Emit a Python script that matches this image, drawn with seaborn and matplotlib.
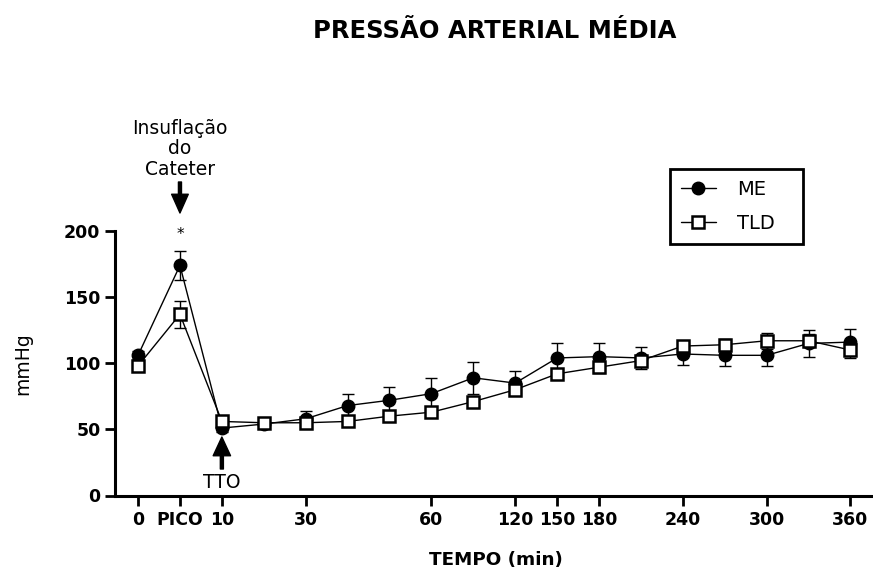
import numpy as np
import pandas as pd
import matplotlib
matplotlib.use("Agg")
import matplotlib.pyplot as plt
import seaborn as sns

# Time points (equally spaced categories) and labelled ticks
tempos = ['0', 'PICO', '10', '20', '30', '40', '50', '60', '90', '120',
          '150', '180', '210', '240', '270', '300', '330', '360']
tick_labels = ['0', 'PICO', '10', '30', '60', '120', '150', '180', '240', '300', '360']

# Mean arterial pressure (mmHg): mean and SEM per group
me_media = [106, 174, 51, 54, 58, 68, 72, 77, 89, 85, 104, 105, 104, 107, 106, 106, 115, 116]
me_epm = [3, 11, 3, 3, 6, 9, 10, 12, 12, 9, 11, 10, 8, 8, 8, 8, 10, 10]
tld_media = [98, 137, 56, 55, 55, 56, 60, 63, 71, 80, 92, 97, 102, 113, 114, 117, 117, 110]
tld_epm = [2, 10, 3, 3, 3, 3, 3, 3, 3, 4, 4, 4, 4, 4, 4, 6, 5, 6]

y_ticks = [0, 50, 100, 150, 200]

sns.set_style("ticks")
plt.rcParams['font.family'] = ['DejaVu Sans']
plt.rcParams['text.color'] = 'black'
plt.rcParams['axes.labelcolor'] = 'black'

W, H = 873, 574
fig = plt.figure(figsize=(W / 100, H / 100), dpi=100)
ax = fig.add_axes([115 / W, (H - 495.5) / H, (871 - 115) / W, (495.5 - 231) / H])

pos = np.arange(len(tempos))
df = pd.DataFrame({'pos': pos, 'ME': me_media, 'TLD': tld_media})

# ME: filled circles
ax.errorbar(pos, me_media, yerr=me_epm, fmt='none', ecolor='black',
            elinewidth=1.0, capsize=4.5, capthick=1.0, zorder=2)
sns.lineplot(data=df, x='pos', y='ME', ax=ax, color='black', linewidth=1.0,
             marker='o', markersize=9, markerfacecolor='black',
             markeredgecolor='black', markeredgewidth=1.0, zorder=3, label='ME')
# TLD: open squares
ax.errorbar(pos, tld_media, yerr=tld_epm, fmt='none', ecolor='black',
            elinewidth=1.0, capsize=4.5, capthick=1.0, zorder=4)
sns.lineplot(data=df, x='pos', y='TLD', ax=ax, color='black', linewidth=1.0,
             marker='s', markersize=8, markerfacecolor='white',
             markeredgecolor='black', markeredgewidth=1.8, zorder=5, label='TLD')

ax.set_xlim(-0.55, 17.49)
ax.set_ylim(0, 200)
ax.set_xticks([tempos.index(t) for t in tick_labels])
ax.set_xticklabels(tick_labels)
ax.set_yticks(y_ticks)
ax.set_xlabel('')
ax.set_ylabel('')

for side in ['top', 'right']:
    ax.spines[side].set_visible(False)
for side in ['left', 'bottom']:
    ax.spines[side].set_linewidth(2.2)
    ax.spines[side].set_color('black')
ax.tick_params(axis='both', length=7.5, width=2.0, color='black',
               labelsize=12.5, labelcolor='black')
ax.tick_params(axis='x', pad=4)
ax.tick_params(axis='y', pad=3)
for lab in ax.get_xticklabels() + ax.get_yticklabels():
    lab.set_fontweight('bold')

# Legend, stretched to a fixed box width
h, l = ax.get_legend_handles_labels()
leg = ax.legend(h, l, loc='upper left',
                bbox_to_anchor=(670 / W, 1 - 244 / H, 133 / W, 75 / H),
                mode='expand', bbox_transform=fig.transFigure, borderaxespad=0,
                fontsize=14, frameon=True, fancybox=False, edgecolor='black',
                framealpha=1, borderpad=0.55, labelspacing=0.8,
                handlelength=1.8, handletextpad=1.1)
leg.get_frame().set_linewidth(2.0)
for t in leg.get_texts():
    t.set_color('black')


def ypx(py):
    """Convert a vertical pixel position to data units."""
    return (495.5 - py) / ((495.5 - 231) / 200)


# Catheter inflation marker
ax.annotate('', xy=(1, ypx(213)), xytext=(1, ypx(182)),
            arrowprops=dict(facecolor='black', edgecolor='black', width=2.2,
                            headwidth=12, headlength=13.5, shrink=0),
            annotation_clip=False)
ax.text(1, ypx(149), 'Insuflação\ndo\nCateter', ha='center', va='center',
        fontsize=13.5, linespacing=1.12, clip_on=False, color='black')
ax.text(1, ypx(235), '*', ha='center', va='center', fontsize=11,
        clip_on=False, color='black')

# Treatment start marker
ax.annotate('', xy=(2, ypx(437)), xytext=(2, ypx(469)),
            arrowprops=dict(facecolor='black', edgecolor='black', width=2.2,
                            headwidth=12.5, headlength=13.5, shrink=0))
ax.text(2, ypx(483), 'TTO', ha='center', va='center', fontsize=13.5, color='black')

fig.text(494.5 / W, 1 - 31 / H, 'PRESSÃO ARTERIAL MÉDIA', ha='center',
         va='center', fontsize=17.5, fontweight='bold', color='black')
fig.text(496 / W, 1 - 560 / H, 'TEMPO (min)', ha='center', va='center',
         fontsize=13.2, fontweight='bold', color='black')
fig.text(23 / W, 1 - 363.5 / H, 'mmHg', ha='center', va='center',
         rotation=90, fontsize=13.5, color='black')

fig.savefig('out.png', dpi=100, facecolor='white')
